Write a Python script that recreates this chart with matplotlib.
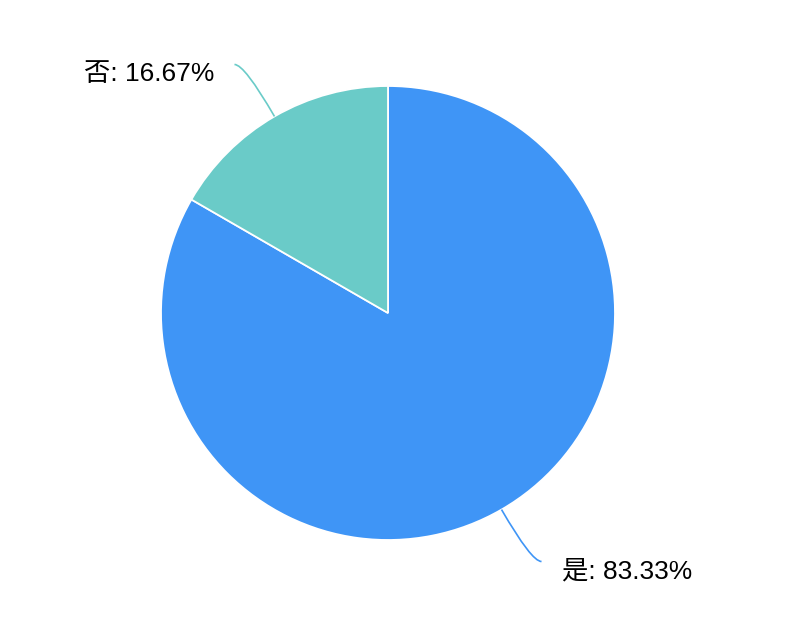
import numpy as np
import matplotlib.pyplot as plt
from matplotlib.path import Path
from matplotlib.patches import PathPatch

plt.rcParams['font.family'] = ['Liberation Sans', 'Noto Sans CJK SC', 'DejaVu Sans']

labels = ["是", "否"]
values = [83.33, 16.67]
colors = ["#3f95f6", "#6acbc8"]

W, H = 796, 628
fig = plt.figure(figsize=(W / 100, H / 100), dpi=100)
ax = fig.add_axes([0, 0, 1, 1])

cx, cy, r = 388, H - 313, 227
wedges, _ = ax.pie(values, colors=colors, startangle=90, counterclock=False,
                   center=(cx, cy), radius=r, frame=True,
                   wedgeprops=dict(edgecolor="white", linewidth=1.3))
ax.set_xlim(0, W)
ax.set_ylim(0, H)
ax.set_aspect("equal")
ax.axis("off")

for w, lab, val, col in zip(wedges, labels, values, colors):
    mid = np.deg2rad((w.theta1 + w.theta2) / 2)
    dx, dy = np.cos(mid), np.sin(mid)
    p0 = (cx + r * dx, cy + r * dy)
    p1 = (cx + (r + 60) * dx, cy + (r + 60) * dy)
    side = 1 if dx > 0 else -1
    p2 = (p1[0] + 10 * side, p1[1])
    path = Path([p0, p1, p2], [Path.MOVETO, Path.CURVE3, Path.CURVE3])
    ax.add_patch(PathPatch(path, fill=False, edgecolor=col, linewidth=1.2))
    ax.text(p2[0] + 20 * side, p2[1] - 10, f"{lab}: {val:.2f}%",
            ha="left" if side > 0 else "right", va="center",
            fontsize=19, color="black")

fig.savefig("out.png", dpi=100, facecolor="white")
